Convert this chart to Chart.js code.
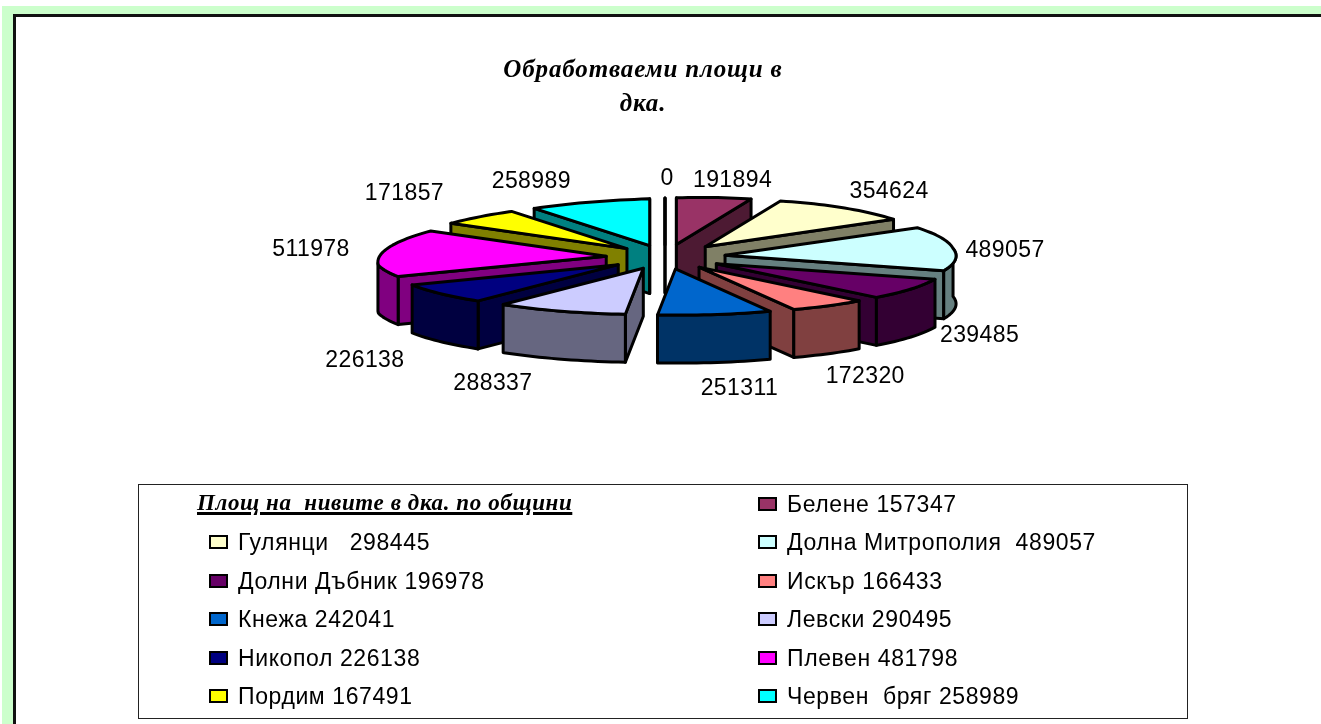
<!DOCTYPE html>
<html lang="bg">
<head>
<meta charset="utf-8">
<title>Обработваеми площи в дка.</title>
<script src="https://cdn.jsdelivr.net/npm/chart.js@4/dist/chart.umd.min.js"></script>
<style>
  html, body { margin: 0; padding: 0; background: #fff; overflow: hidden; }
  #page { position: relative; width: 1321px; height: 724px; overflow: hidden; }
  #green { position: absolute; left: 2px; top: 6px; right: 0; bottom: 0; background: #ccffcc; }
  #sheet { position: absolute; left: 13px; top: 14px; right: 0; bottom: 0; background: #fff;
           border-left: 3px solid #111; border-top: 3px solid #111; }
  canvas { position: absolute; left: 0; top: 0; }
  #legend { position: absolute; left: 138px; top: 484px; width: 1048px; height: 233px;
            border: 1px solid #222; font: 23px "Liberation Sans", Arial, sans-serif;
            letter-spacing: 0.6px; color: #000; }
  #legendTitle { position: absolute; left: 58px; top: 5px; white-space: pre;
                 font: italic bold 23px "Liberation Serif", "Times New Roman", serif;
                 text-decoration: underline; text-decoration-thickness: 3px; }
  .entry { position: absolute; white-space: pre; line-height: 26px; height: 26px; }
  .entry i { position: absolute; left: -29px; top: 6px; width: 15px; height: 10px;
             border: 2px solid #000; }
</style>
</head>
<body>
<div id="page">
  <div id="green"></div>
  <div id="sheet"></div>
  <canvas id="pie" width="1321" height="724"></canvas>
  <div id="legend"><div id="legendTitle"></div></div>
</div>
<script>
const titleLines = ['Обработваеми площи в', 'дка.'];
const legendTitle = 'Площ на  нивите в дка. по общини';
const categories = ['', 'Белене', 'Гулянци', 'Долна Митрополия', 'Долни Дъбник', 'Искър', 'Кнежа',
    'Левски', 'Никопол', 'Плевен', 'Пордим', 'Червен бряг'];
const areas = [0, 191894, 354624, 489057, 239485, 172320, 251311, 288337, 226138, 511978, 171857, 258989];
const legendTexts = ['', 'Белене 157347', 'Гулянци   298445', 'Долна Митрополия  489057', 'Долни Дъбник 196978',
    'Искър 166433', 'Кнежа 242041', 'Левски 290495', 'Никопол 226138', 'Плевен 481798', 'Пордим 167491',
    'Червен  бряг 258989'];
const sliceColors = ['#9999ff', '#993366', '#ffffcc', '#ccffff', '#660066', '#ff8080', '#0066cc',
    '#ccccff', '#000080', '#ff00ff', '#ffff00', '#00ffff'];

// 3D look of the old Excel pie
const squash = 0.205;
const explode = 60;
const depth = 48;
const frontShear = 0.8; // front half leans to the right in the original
const backShearRight = 0.5;
const backShearLeft = 0.12;
const tilt = 0.03; // right side sits a bit higher than the left
const labelRadius = 340;
const labelLift = 80;
const labelNudge = [[2, 2], [3, 2], [-4, -6], [0, -7], [61, 25], [58, 47], [71, 52],
    [-1, 58], [-7, 63], [-21, 9], [-45, -1], [-47, 2]];

function darken(hex) {
    const n = parseInt(hex.slice(1), 16);
    const half = (v) => Math.round(v / 2);
    return `rgb(${half(n >> 16)}, ${half((n >> 8) & 255)}, ${half(n & 255)})`;
}

const fakePie3d = {
    id: 'fakePie3d',
    beforeDatasetsDraw(chart) {
        const ctx = chart.ctx;
        const arcs = chart.getDatasetMeta(0).data;

        const slices = arcs.map((arc, i) => {
            const a1 = arc.startAngle + Math.PI / 2;
            const a2 = arc.endAngle + Math.PI / 2;
            return { arc, i, a1, a2, mid: (a1 + a2) / 2 };
        });
        // paint back to front
        slices.sort((p, q) => Math.cos(q.mid) - Math.cos(p.mid));

        ctx.save();
        ctx.lineWidth = 3;
        ctx.lineJoin = 'round';
        ctx.strokeStyle = '#000';

        const shape = (pts, fill) => {
            ctx.beginPath();
            pts.forEach((p, n) => (n ? ctx.lineTo(p.x, p.y) : ctx.moveTo(p.x, p.y)));
            ctx.closePath();
            ctx.fillStyle = fill;
            ctx.fill();
            ctx.stroke();
        };

        slices.forEach(({ arc, i, a1, a2, mid }) => {
            const R = arc.outerRadius;
            const ox = Math.sin(mid) * explode;
            const oy = -Math.cos(mid) * explode * squash;
            const project = (a, r) => {
                const y = oy - Math.cos(a) * r * squash;
                const s = Math.sin(a);
                const lean = y > 0 ? frontShear * y : (s > 0 ? backShearRight : backShearLeft) * y * Math.abs(s);
                const dx = ox + s * r + lean;
                return { x: arc.x + dx, y: arc.y + y - tilt * dx };
            };
            const down = (p) => ({ x: p.x, y: p.y + depth });
            const wall = darken(sliceColors[i]);
            const tip = project(0, 0);
            const first = project(a1, R);
            const last = project(a2, R);

            // side cuts, only the ones turned to the viewer
            if (Math.sin(a1) <= 1e-6) shape([tip, first, down(first), down(tip)], wall);
            if (Math.sin(a2) >= -1e-6) shape([tip, last, down(last), down(tip)], wall);

            // rim in the front part of the slice
            const from = Math.max(a1, Math.PI / 2);
            const to = Math.min(a2, Math.PI * 1.5);
            if (to > from) {
                const rim = [];
                for (let a = from; a < to; a += 0.03) rim.push(project(a, R));
                rim.push(project(to, R));
                shape(rim.concat(rim.map(down).reverse()), wall);
            }

            const top = [tip];
            for (let a = a1; a < a2; a += 0.03) top.push(project(a, R));
            top.push(last);
            shape(top, sliceColors[i]);
        });
        ctx.restore();
        return false; // the flat arcs are not wanted
    },
    afterDraw(chart) {
        const ctx = chart.ctx;
        ctx.save();
        ctx.fillStyle = '#000';
        ctx.textAlign = 'center';
        ctx.textBaseline = 'middle';

        ctx.font = 'italic bold 25px "Liberation Serif", "Times New Roman", serif';
        ctx.letterSpacing = '0.85px';
        titleLines.forEach((line, n) => ctx.fillText(line, 643, 71 + n * 34));

        ctx.font = '23px "Liberation Sans", Arial, sans-serif';
        ctx.letterSpacing = '0.4px';
        chart.getDatasetMeta(0).data.forEach((arc, i) => {
            const mid = (arc.startAngle + arc.endAngle) / 2 + Math.PI / 2;
            const x = arc.x + Math.sin(mid) * labelRadius + labelNudge[i][0];
            const y = arc.y - Math.cos(mid) * labelLift + labelNudge[i][1];
            ctx.fillText(String(areas[i]), x, y);
        });
        ctx.restore();
    },
};

new Chart(document.getElementById('pie'), {
    type: 'pie',
    data: {
        labels: categories,
        datasets: [{ data: areas, backgroundColor: sliceColors, radius: 228 }],
    },
    plugins: [fakePie3d],
    options: {
        responsive: false,
        animation: false,
        layout: { padding: { left: 9, bottom: 210 } },
        plugins: {
            legend: { display: false },
            tooltip: { enabled: false },
            title: { display: false },
        },
    },
});

// legend is a two column box, the first cell holds the series name instead of a swatch
const legendBox = document.getElementById('legend');
document.getElementById('legendTitle').textContent = legendTitle;
legendTexts.forEach((text, i) => {
    if (!text) return;
    const el = document.createElement('div');
    el.className = 'entry';
    const col = i % 2 === 0 ? 99 : 648;
    const row = Math.floor(i / 2);
    el.style.left = col + 'px';
    el.style.top = 6 + row * 38.4 + 'px';
    const swatch = document.createElement('i');
    swatch.style.background = sliceColors[i];
    el.appendChild(swatch);
    el.appendChild(document.createTextNode(text));
    legendBox.appendChild(el);
});
</script>
</body>
</html>
